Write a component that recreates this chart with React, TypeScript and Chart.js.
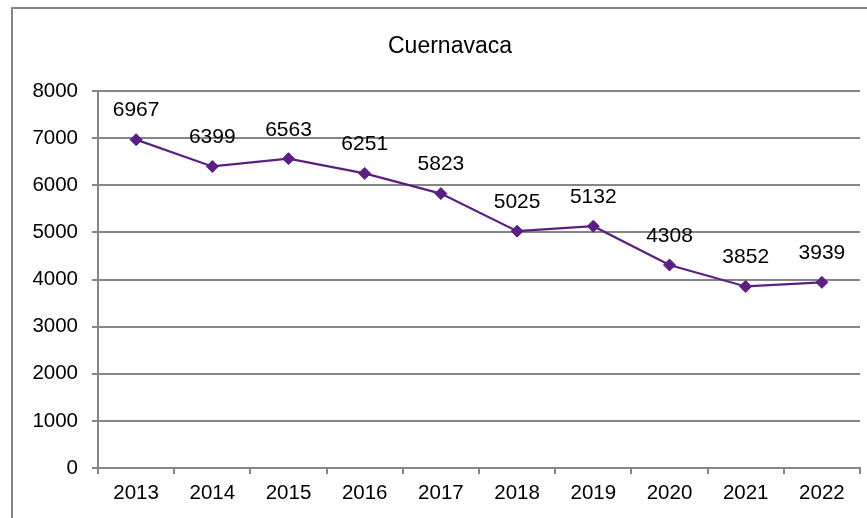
import React, { useEffect, useRef } from "react";
import { Chart, registerables } from "chart.js";

Chart.register(...registerables);

const title = "Cuernavaca";
const years = ["2013", "2014", "2015", "2016", "2017", "2018", "2019", "2020", "2021", "2022"];
const values = [6967, 6399, 6563, 6251, 5823, 5025, 5132, 4308, 3852, 3939];
const yMin = 0;
const yMax = 8000;
const yStep = 1000;

const FONT = "'Liberation Sans', Arial, sans-serif";
const GRID = "#868686";
const PURPLE = "#5B1F82";

export default function App() {
  const ref = useRef<HTMLCanvasElement | null>(null);

  useEffect(() => {
    if (!ref.current) return;
    const framePlugin = {
      id: "frame",
      beforeDraw(chart: any) {
        const ctx = chart.ctx;
        ctx.save();
        ctx.fillStyle = "#ffffff";
        ctx.fillRect(0, 0, chart.width, chart.height);
        ctx.strokeStyle = GRID;
        ctx.lineWidth = 2;
        ctx.strokeRect(12, 8, 1000, 1000);
        ctx.fillStyle = "#000000";
        ctx.font = `23px ${FONT}`;
        ctx.textAlign = "center";
        ctx.textBaseline = "alphabetic";
        ctx.fillText(title, 450, 53);
        ctx.restore();
      },
    };
    const labelPlugin = {
      id: "datalabels",
      afterDatasetsDraw(chart: any) {
        const ctx = chart.ctx;
        const meta = chart.getDatasetMeta(0);
        ctx.save();
        ctx.fillStyle = "#000000";
        ctx.font = `21px ${FONT}`;
        ctx.textAlign = "center";
        ctx.textBaseline = "middle";
        meta.data.forEach((pt: any, i: number) => {
          ctx.fillText(String(values[i]), pt.x, pt.y - 29);
        });
        ctx.restore();
      },
    };
    const chart = new Chart(ref.current, {
      type: "line",
      data: {
        labels: years,
        datasets: [
          {
            data: values,
            borderColor: PURPLE,
            backgroundColor: PURPLE,
            borderWidth: 2.25,
            pointStyle: "rectRot",
            pointRadius: 6,
            pointBackgroundColor: PURPLE,
            pointBorderColor: PURPLE,
            pointBorderWidth: 1,
            tension: 0,
          },
        ],
      },
      options: {
        responsive: false,
        animation: false,
        devicePixelRatio: 1,
        layout: { padding: { top: 91, right: 7, left: 0, bottom: 0 } },
        plugins: {
          legend: { display: false },
          title: { display: false },
          tooltip: { enabled: false },
        },
        scales: {
          x: {
            offset: true,
            afterFit(scale: any) {
              scale.height = 50;
            },
            grid: {
              offset: true,
              drawOnChartArea: false,
              drawTicks: true,
              tickLength: 6,
              color: GRID,
              lineWidth: 2,
            },
            border: { color: GRID, width: 2 },
            ticks: {
              color: "#000000",
              font: { family: FONT, size: 20.5 },
              padding: 7,
              maxRotation: 0,
              autoSkip: false,
            },
          },
          y: {
            min: yMin,
            max: yMax,
            afterFit(scale: any) {
              scale.width = 98;
            },
            grid: {
              color: GRID,
              lineWidth: 2,
              drawTicks: true,
              tickLength: 6,
            },
            border: { color: GRID, width: 2 },
            ticks: {
              stepSize: yStep,
              color: "#000000",
              font: { family: FONT, size: 20.5 },
              padding: 14,
              callback: (v: any) => String(v),
            },
          },
        },
      },
      plugins: [framePlugin, labelPlugin],
    });
    return () => chart.destroy();
  }, []);

  return (
    <div style={{ position: "absolute", left: 0, top: 0, width: 867, height: 518 }}>
      <canvas ref={ref} width={867} height={518} style={{ width: 867, height: 518, display: "block" }} />
    </div>
  );
}
